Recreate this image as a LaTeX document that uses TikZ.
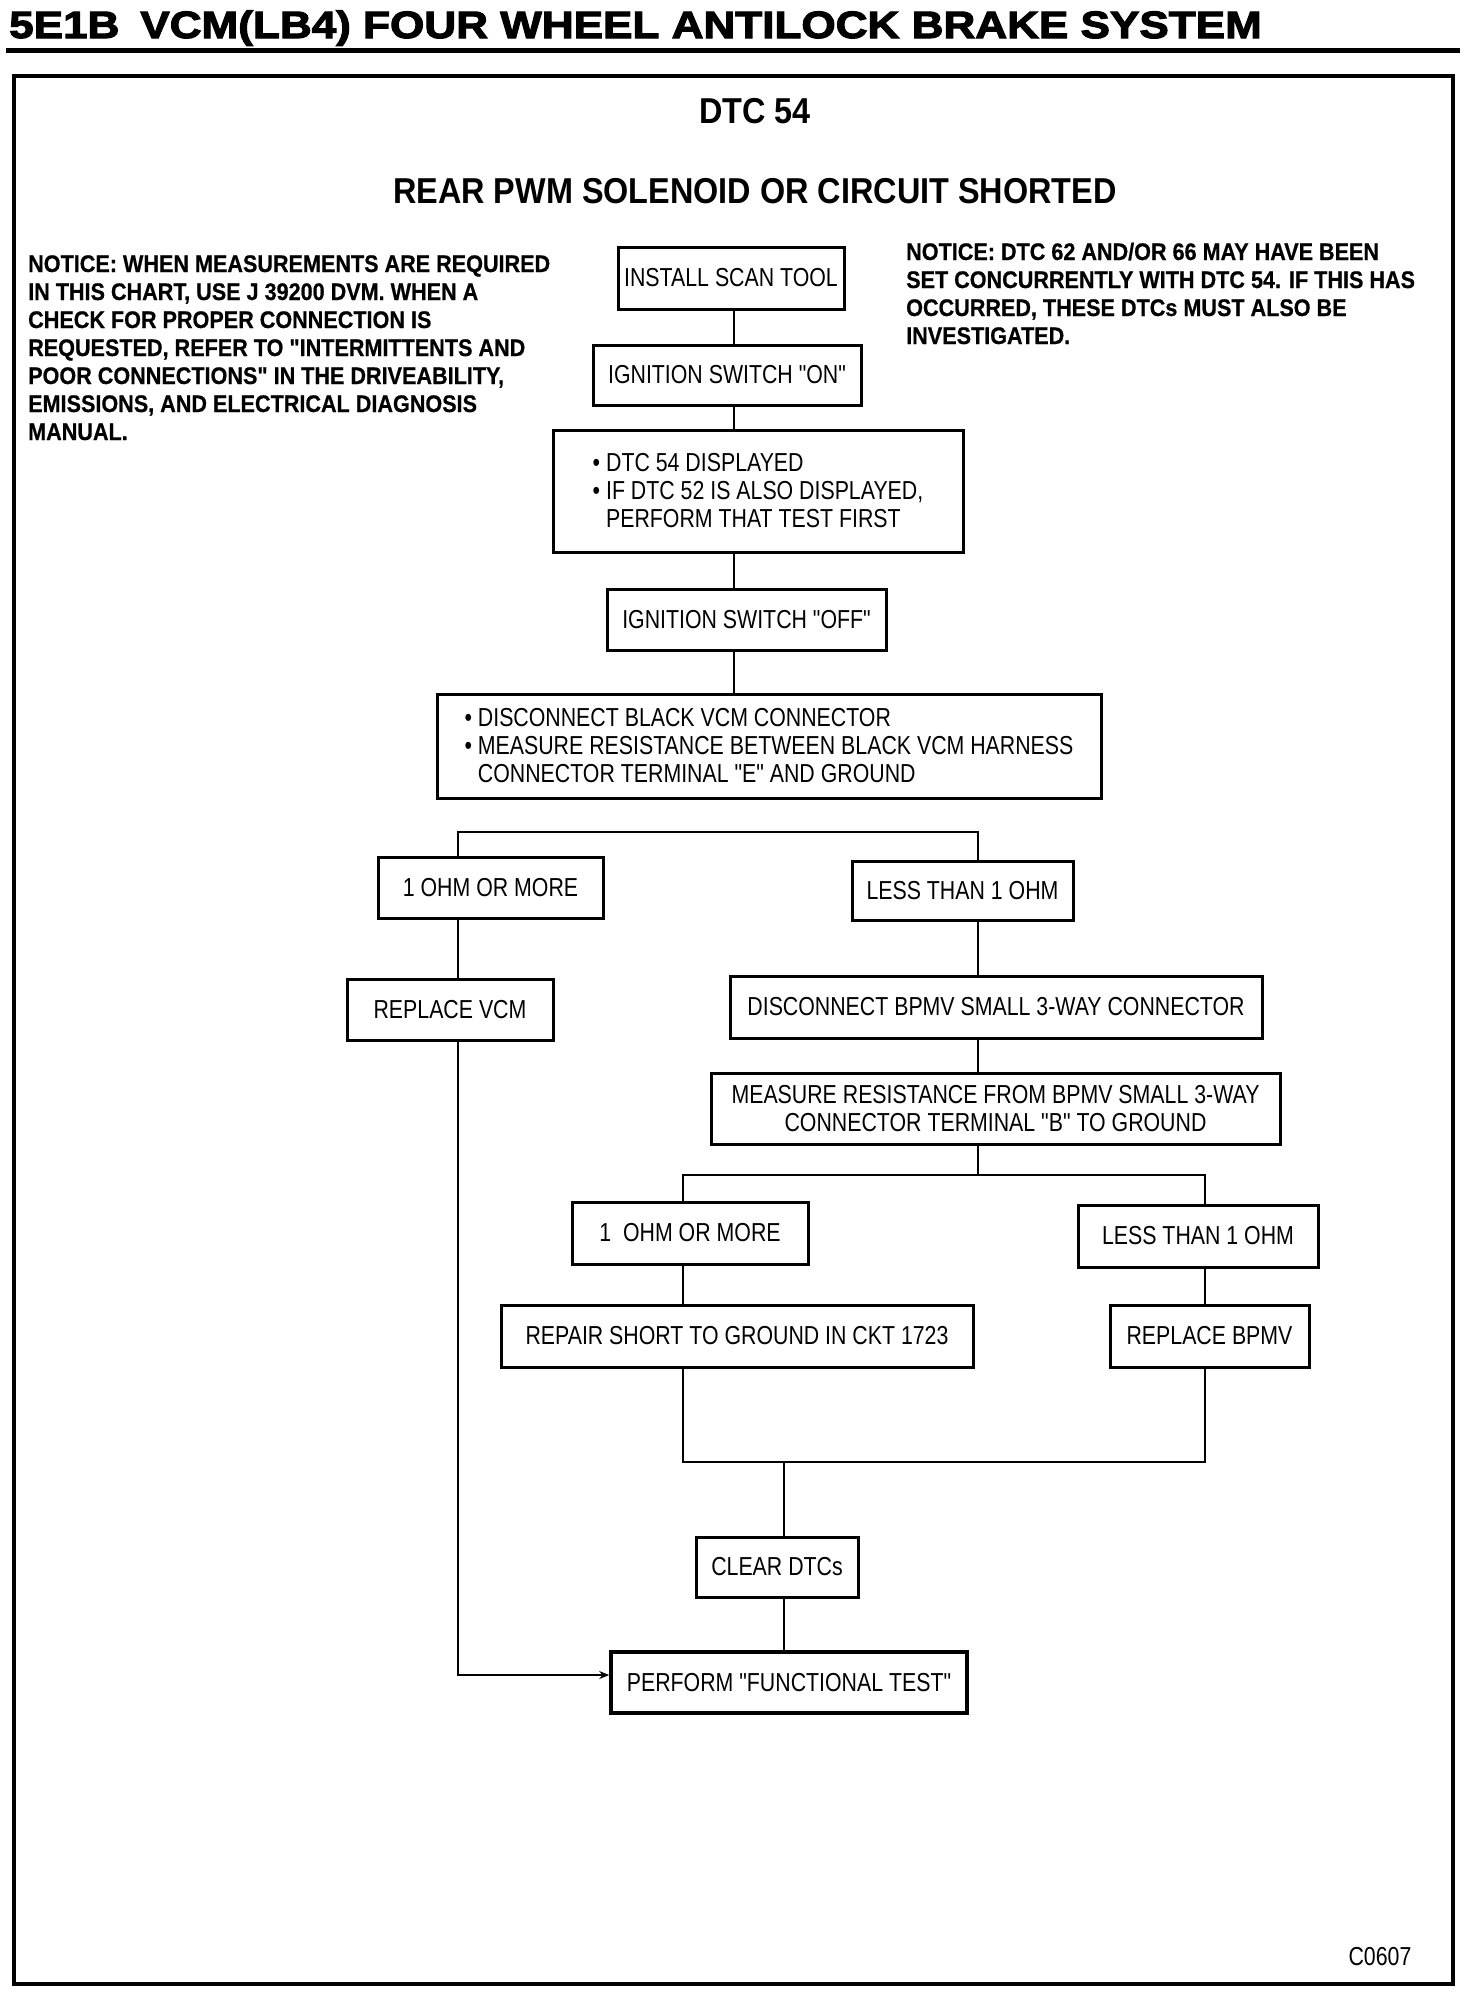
\documentclass[tikz,border=0pt]{standalone}
\usepackage{fontspec}
\usetikzlibrary{arrows.meta}
\newfontfamily\regf[FakeStretch=0.82]{Liberation Sans}
\newfontfamily\bldf[FakeStretch=0.9,FakeBold=0.6]{Liberation Sans}
\newfontfamily\ttlf[FakeStretch=0.9]{Liberation Sans}
\newfontfamily\hdrf[FakeStretch=1.16,FakeBold=3]{Liberation Sans}
\begin{document}
\begin{tikzpicture}[x=1pt,y=-1pt,
  box/.style={draw,line width=3pt,inner sep=0pt,font=\regf\fontsize{26}{28}\selectfont,align=center},
  wire/.style={line width=2.6pt},
  notice/.style={font=\bldf\bfseries\fontsize{24}{28}\selectfont,anchor=base west,inner sep=0pt},
  title/.style={font=\ttlf\bfseries\fontsize{36}{40}\selectfont,inner sep=0pt,anchor=base}]
\useasboundingbox (0,0) rectangle (1472,1992);
\fill[white] (0,0) rectangle (1472,1992);
% header
\node[anchor=base west,inner sep=0pt,font=\hdrf\bfseries\fontsize{38}{40}\selectfont] (hdr) at (9,38) {5E1B\hspace{0.55em}VCM(LB4) FOUR WHEEL ANTILOCK BRAKE SYSTEM};
\draw[line width=5pt] (6,50) -- (1460,50);
\draw[line width=3.5pt] (14,76) rectangle (1453,1984);
% titles
\node[title] (t1) at (755,123) {DTC 54};
\node[title] (t2) at (755,203) {REAR PWM SOLENOID OR CIRCUIT SHORTED};
% notices
\node[notice] (nl1) at (28,272) {NOTICE: WHEN MEASUREMENTS ARE REQUIRED};
\node[notice] (nl2) at (28,300) {IN THIS CHART, USE J 39200 DVM. WHEN A};
\node[notice] (nl3) at (28,328) {CHECK FOR PROPER CONNECTION IS};
\node[notice] (nl4) at (28,356) {REQUESTED, REFER TO "INTERMITTENTS AND};
\node[notice] (nl5) at (28,384) {POOR CONNECTIONS" IN THE DRIVEABILITY,};
\node[notice] (nl6) at (28,412) {EMISSIONS, AND ELECTRICAL DIAGNOSIS};
\node[notice] (nl7) at (28,440) {MANUAL.};
\node[notice] (nr1) at (906,260) {NOTICE: DTC 62 AND/OR 66 MAY HAVE BEEN};
\node[notice] (nr2) at (906,288) {SET CONCURRENTLY WITH DTC 54. IF THIS HAS};
\node[notice] (nr3) at (906,316) {OCCURRED, THESE DTCs MUST ALSO BE};
\node[notice] (nr4) at (906,344) {INVESTIGATED.};
% boxes
\node[box,minimum width=226pt,minimum height=62pt] (scan) at (731,278) {INSTALL SCAN TOOL};
\node[box,minimum width=268pt,minimum height=60pt] (ignon) at (727,375) {IGNITION SWITCH "ON"};
\node[box,minimum width=410pt,minimum height=122pt,align=left] (dtc) at (758,491) {\textbullet\ DTC 54 DISPLAYED\\\textbullet\ IF DTC 52 IS ALSO DISPLAYED,\\\phantom{\textbullet\ }PERFORM THAT TEST FIRST};
\node[box,minimum width=279pt,minimum height=61pt] (ignoff) at (746.5,619.5) {IGNITION SWITCH "OFF"};
\node[box,minimum width=664pt,minimum height=104pt,align=left] (disc) at (769,746) {\textbullet\ DISCONNECT BLACK VCM CONNECTOR\\\textbullet\ MEASURE RESISTANCE BETWEEN BLACK VCM HARNESS\\\phantom{\textbullet\ }CONNECTOR TERMINAL "E" AND GROUND};
\node[box,minimum width=225pt,minimum height=61pt] (ohm1) at (490.5,887.5) {1 OHM OR MORE};
\node[box,minimum width=221pt,minimum height=59pt] (less1) at (962.5,890.5) {LESS THAN 1 OHM};
\node[box,minimum width=206pt,minimum height=61pt] (repvcm) at (450,1009.5) {REPLACE VCM};
\node[box,minimum width=532pt,minimum height=62pt] (discb) at (996,1007) {DISCONNECT BPMV SMALL 3-WAY CONNECTOR};
\node[box,minimum width=569pt,minimum height=71pt] (meas) at (995.5,1108.5) {MEASURE RESISTANCE FROM BPMV SMALL 3-WAY\\CONNECTOR TERMINAL "B" TO GROUND};
\node[box,minimum width=236pt,minimum height=62pt] (ohm2) at (690,1233) {1\ \ OHM OR MORE};
\node[box,minimum width=240pt,minimum height=62pt] (less2) at (1198,1236) {LESS THAN 1 OHM};
\node[box,minimum width=472pt,minimum height=62pt] (repair) at (737,1336) {REPAIR SHORT TO GROUND IN CKT 1723};
\node[box,minimum width=199pt,minimum height=62pt] (repb) at (1209.5,1336) {REPLACE BPMV};
\node[box,minimum width=162pt,minimum height=60pt] (clear) at (777,1567) {CLEAR DTCs};
\node[box,line width=3.6pt,minimum width=356pt,minimum height=61pt] (perf) at (789,1682.5) {PERFORM "FUNCTIONAL TEST"};
\node[inner sep=0pt,font=\regf\fontsize{26}{28}\selectfont] (code) at (1380,1957) {C0607};
% connectors
\coordinate (cx) at (734,0);
\draw[wire] (scan.south -| cx) -- (ignon.north -| cx);
\draw[wire] (ignon.south -| cx) -- (dtc.north -| cx);
\draw[wire] (dtc.south -| cx) -- (ignoff.north -| cx);
\draw[wire] (ignoff.south -| cx) -- (disc.north -| cx);
\coordinate (b1l) at (458,832);
\coordinate (b1r) at (978,832);
\draw[wire] (ohm1.north -| b1l) -- (b1l) -- (b1r) -- (less1.north -| b1r);
\draw[wire] (ohm1.south -| b1l) -- (repvcm.north -| b1l);
\coordinate (lc) at (458,1675);
\draw[wire,-{Stealth[length=10pt,width=8pt]}] (repvcm.south -| b1l) -- (lc) -- (perf.west |- lc);
\draw[wire] (less1.south -| b1r) -- (discb.north -| b1r);
\draw[wire] (discb.south -| b1r) -- (meas.north -| b1r);
\coordinate (b2l) at (683,1175);
\coordinate (b2r) at (1205,1175);
\draw[wire] (meas.south -| b1r) -- (b1r |- b2l);
\draw[wire] (ohm2.north -| b2l) -- (b2l) -- (b2r) -- (less2.north -| b2r);
\draw[wire] (ohm2.south -| b2l) -- (repair.north -| b2l);
\draw[wire] (less2.south -| b2r) -- (repb.north -| b2r);
\coordinate (jl) at (683,1462);
\coordinate (jr) at (1205,1462);
\coordinate (jm) at (784,1462);
\draw[wire] (repair.south -| jl) -- (jl) -- (jr) -- (repb.south -| jr);
\draw[wire] (jm) -- (clear.north -| jm);
\draw[wire] (clear.south -| jm) -- (perf.north -| jm);
\end{tikzpicture}
\end{document}
